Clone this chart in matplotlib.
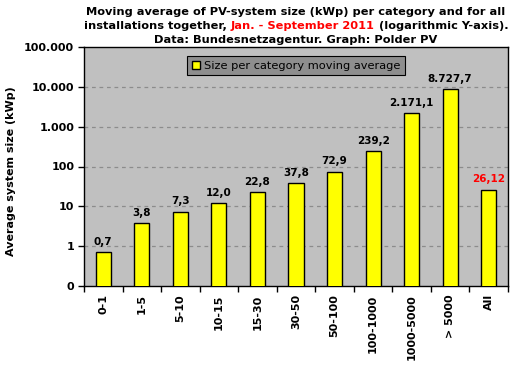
import matplotlib
matplotlib.use("Agg")
import matplotlib.pyplot as plt
from matplotlib.ticker import FixedLocator, NullLocator

categories = ["0-1", "1-5", "5-10", "10-15", "15-30", "30-50", "50-100",
              "100-1000", "1000-5000", "> 5000", "All"]
values = [0.7, 3.8, 7.3, 12.0, 22.8, 37.8, 72.9, 239.2, 2171.1, 8727.7, 26.12]
value_labels = ["0,7", "3,8", "7,3", "12,0", "22,8", "37,8", "72,9",
                "239,2", "2.171,1", "8.727,7", "26,12"]
ytick_values = [0.1, 1, 10, 100, 1000, 10000, 100000]
ytick_labels = ["0", "1", "10", "100", "1.000", "10.000", "100.000"]

plt.rcParams['font.family'] = ['DejaVu Sans']
W, H = 531, 370
fig = plt.figure(figsize=(W / 100, H / 100), dpi=100)
fig.patch.set_facecolor('white')
ax = fig.add_axes([84 / W, 1 - 286 / H, (508 - 84) / W, (286 - 47) / H])
ax.set_facecolor('#C0C0C0')

x = list(range(len(categories)))
ax.bar(x, values, width=0.39, color='#FFFF00', edgecolor='black', linewidth=1.0,
       zorder=3, label='Size per category moving average')
ax.set_yscale('log')
ax.set_ylim(0.1, 100000)
ax.set_xlim(-0.5, len(categories) - 0.5)

ax.yaxis.set_major_locator(FixedLocator(ytick_values))
ax.yaxis.set_minor_locator(NullLocator())
ax.set_yticklabels(ytick_labels, fontsize=8, fontweight='bold')
for yv in ytick_values[1:-1]:
    ax.axhline(yv, color='#8c8c8c', linestyle=(0, (3, 3)), linewidth=0.9, zorder=1)

ax.set_xticks([i - 0.5 for i in range(len(categories) + 1)], minor=False)
ax.set_xticklabels([])
ax.set_xticks(x, minor=True)
ax.set_xticklabels(categories, minor=True, rotation=90, fontsize=8, fontweight='bold')
ax.tick_params(axis='x', which='minor', length=0, pad=6)
ax.tick_params(axis='x', which='major', length=4, direction='out', width=1)
ax.tick_params(axis='y', length=4, direction='out', width=1, pad=3)

for s in ax.spines.values():
    s.set_linewidth(1.0)
    s.set_color('black')

for i, (v, lbl) in enumerate(zip(values, value_labels)):
    col = 'red' if categories[i] == 'All' else 'black'
    ax.annotate(lbl, (i, v), xytext=(0, 4), textcoords='offset points',
                ha='center', va='bottom', fontsize=7.5, fontweight='bold', color=col, zorder=4)

ax.set_ylabel('Average system size (kWp)', fontsize=8, fontweight='bold')
ax.yaxis.set_label_coords((16 - 84) / (508 - 84), (286 - 171) / (286 - 47))

leg = ax.legend(loc='upper center', bbox_to_anchor=(0.5, 0.985), frameon=True,
                fancybox=False, fontsize=8.2, handlelength=0.7, handleheight=0.7,
                handletextpad=0.4, borderpad=0.4)
leg.get_frame().set_facecolor('#8E8E8E')
leg.get_frame().set_edgecolor('black')
leg.get_frame().set_linewidth(0.8)
leg.get_frame().set_alpha(1)

# Title
cx = 296 / W
fs = 8.2
fig.text(cx, 1 - 12 / H, "Moving average of PV-system size (kWp) per category and for all",
         ha='center', va='center', fontsize=fs, fontweight='bold')
fig.text(cx, 1 - 40 / H, "Data: Bundesnetzagentur. Graph: Polder PV",
         ha='center', va='center', fontsize=fs, fontweight='bold')
parts = [("installations together, ", 'black'), ("Jan. - September 2011", 'red'),
         (" (logarithmic Y-axis).", 'black')]
texts = []
for t, c in parts:
    texts.append(fig.text(0, 1 - 26 / H, t, ha='left', va='center', fontsize=fs,
                          fontweight='bold', color=c))
fig.canvas.draw()
r = fig.canvas.get_renderer()
widths = [tx.get_window_extent(r).width for tx in texts]
total = sum(widths)
start = 296 - total / 2
for tx, w in zip(texts, widths):
    tx.set_x(start / W)
    start += w

fig.savefig('out.png', dpi=100)
